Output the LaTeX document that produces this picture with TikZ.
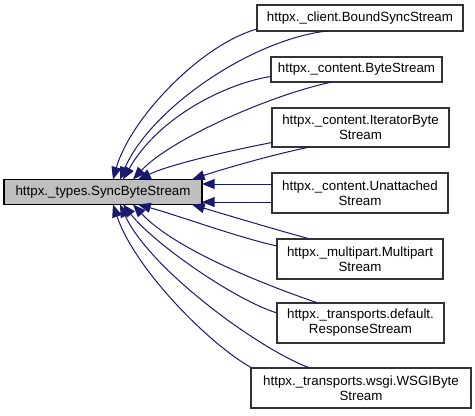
\documentclass[tikz,border=0pt]{standalone}
\usepackage{fontspec}
\setmainfont{Liberation Sans}
\usetikzlibrary{arrows.meta,calc}
\definecolor{edgeblue}{RGB}{25,25,112}
\definecolor{maingray}{RGB}{191,191,191}
\begin{document}
\begin{tikzpicture}[x=0.75pt,y=-0.75pt,
  box/.style={draw=black!80,line width=0.9pt,fill=white,inner sep=0pt,outer sep=0pt,align=center,font=\fontsize{10pt}{11.25pt}\selectfont},
  mainbox/.style={box,draw=black,fill=maingray},
  edge/.style={draw=edgeblue,line width=0.75pt,-{Triangle[length=9.5pt,width=7.5pt]},fill=none}]
\useasboundingbox[fill=white] (0,0) rectangle (475,415);
\node[mainbox,minimum width=148.5pt,minimum height=18.75pt] (main) at (103,192) {httpx.\_types.SyncByteStream};
\node[box,minimum width=154.5pt,minimum height=19.5pt] (c1) at (360,18) {httpx.\_client.BoundSyncStream};
\node[box,minimum width=128.25pt,minimum height=18.75pt] (c2) at (356.5,69.5) {httpx.\_content.ByteStream};
\node[box,minimum width=132.75pt,minimum height=29.25pt] (c3) at (360.5,127.5) {httpx.\_content.IteratorByte\\Stream};
\node[box,minimum width=132pt,minimum height=30pt] (c4) at (360,193) {httpx.\_content.Unattached\\Stream};
\node[box,minimum width=124.5pt,minimum height=30pt] (c5) at (360,259) {httpx.\_multipart.Multipart\\Stream};
\node[box,minimum width=125.25pt,minimum height=30pt] (c6) at (360.5,323) {httpx.\_transports.default.\\ResponseStream};
\node[box,minimum width=165pt,minimum height=30pt] (c7) at (361,388) {httpx.\_transports.wsgi.WSGIByte\\Stream};
% edges
\draw[edge] ($(c1.south west)+(0,-2)$) .. controls +(-57,16) and +(17,-60) .. ($(main.north west)+(109,0)$);
\draw[edge] ($(c1.south west)+(70,0)$) .. controls +(-77,9) and +(30,-70) .. ($(main.north west)+(116,0)$);
\draw[edge] ($(c2.west)+(0,7)$) .. controls +(-41,6) and +(37,-65) .. ($(main.north west)+(119,0)$);
\draw[edge] ($(c2.south west)+(61,0)$) .. controls +(-62,13) and +(37,-40) .. ($(main.north west)+(129,0)$);
\draw[edge] ($(c3.west)+(0,15)$) .. controls +(-42,8) and +(32,-15) .. ($(main.north west)+(134,0)$);
\draw[edge] ($(c3.south west)+(38,0)$) .. controls +(-40,8) and +(23,-8) .. ($(main.north west)+(188,0)$);
\draw[edge] ($(c4.west)+(0,-9)$) -- ($(main.east)+(0,-8)$);
\draw[edge] ($(c4.west)+(0,9)$) -- ($(main.east)+(0,10)$);
\draw[edge] ($(c5.north west)+(33,0)$) .. controls +(-40,-11) and +(23,7) .. ($(main.south west)+(188,0)$);
\draw[edge] ($(c5.west)+(0,-13)$) .. controls +(-37,-8) and +(37,10) .. ($(main.south west)+(134,0)$);
\draw[edge] ($(c6.north west)+(41,0)$) .. controls +(-53,-18) and +(42,45) .. ($(main.south west)+(129,0)$);
\draw[edge] ($(c6.west)+(0,-10)$) .. controls +(-42,-13) and +(32,40) .. ($(main.south west)+(119,0)$);
\draw[edge] ($(c7.north west)+(59,0)$) .. controls +(-50,-18) and +(30,65) .. ($(main.south west)+(116,0)$);
\draw[edge] ($(c7.north west)+(1,0)$) .. controls +(-42,-23) and +(22,65) .. ($(main.south west)+(109,0)$);
\end{tikzpicture}
\end{document}
